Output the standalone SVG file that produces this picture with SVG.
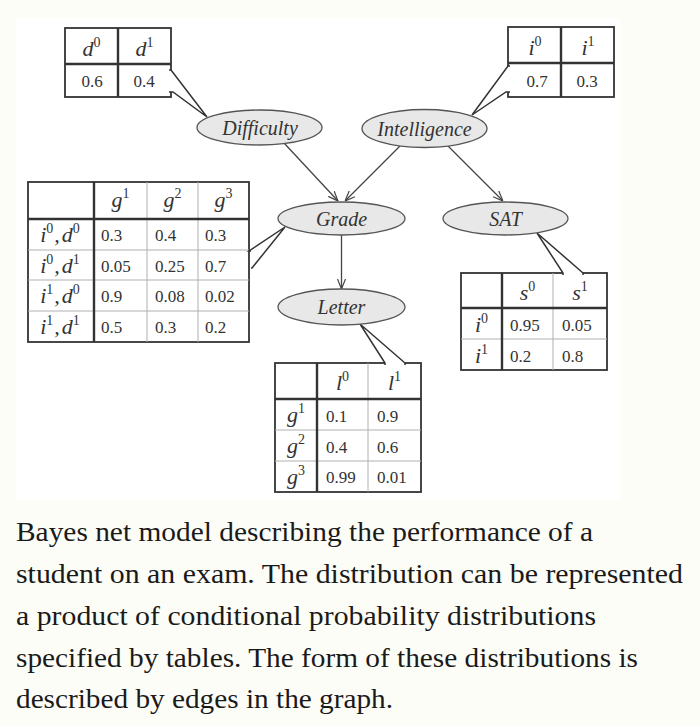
<svg xmlns="http://www.w3.org/2000/svg" width="700" height="726" viewBox="0 0 700 726">
<defs>
<marker id="arr" viewBox="0 0 10 10" refX="10" refY="5" markerWidth="10" markerHeight="10" markerUnits="userSpaceOnUse" orient="auto">
<path d="M0,1 L10,5 L0,9" fill="none" stroke="#444" stroke-width="1.2"/>
</marker>
<style>
.node ellipse{fill:#e8e8e8;stroke:#555;stroke-width:1.3}
.lbl{font-family:"Liberation Serif","Times New Roman",Times,serif;font-style:italic;font-size:20px;fill:#333;text-anchor:middle}
.outer{fill:#fff;stroke:#333;stroke-width:1.8}
.thick{stroke:#333;stroke-width:2.4;fill:none}
.thin{stroke:#b0b0b0;stroke-width:1;fill:none}
.var{font-family:"Liberation Serif","Times New Roman",Times,serif;font-style:italic;font-size:22px;fill:#333;text-anchor:middle}
.sup{font-style:normal;font-size:14px}
.val{font-family:"Liberation Serif","Times New Roman",Times,serif;font-size:17px;fill:#333}
.mid{text-anchor:middle}
.edge{stroke:#444;stroke-width:1.3;fill:none}
.call{fill:#fff;stroke:#333;stroke-width:1.5;stroke-linejoin:miter}
.cap{font-family:"Liberation Serif","Times New Roman",Times,serif;font-size:28px;fill:#1a1a1a}
</style>
</defs>
<rect x="0" y="0" width="700" height="726" fill="#fdfdf8"/>
<rect x="16" y="18" width="604" height="482" fill="#fff"/>

<g id="cpt-difficulty">
<rect class="outer" x="65" y="28" width="106" height="69"/>
<path class="thick" d="M118,28 V97 M65,64 H171"/>
<text class="var" x="91.5" y="56">d<tspan class="sup" dy="-9">0</tspan></text>
<text class="var" x="144.5" y="56">d<tspan class="sup" dy="-9">1</tspan></text>
<text class="val mid" x="92" y="87">0.6</text>
<text class="val mid" x="144" y="87">0.4</text>
</g>

<g id="cpt-intelligence">
<rect class="outer" x="508" y="27" width="106" height="70"/>
<path class="thick" d="M561,27 V97 M508,63 H614"/>
<text class="var" x="535" y="55">i<tspan class="sup" dy="-9">0</tspan></text>
<text class="var" x="588" y="55">i<tspan class="sup" dy="-9">1</tspan></text>
<text class="val mid" x="537" y="87">0.7</text>
<text class="val mid" x="587" y="87">0.3</text>
</g>

<g id="cpt-grade">
<rect class="outer" x="28" y="182" width="221" height="160"/>
<path class="thin" d="M147,182 V342 M198,182 V342 M28,250 H249 M28,280 H249 M28,311 H249"/>
<path class="thick" d="M94,182 V342 M28,219 H249"/>
<text class="var" x="120.5" y="207">g<tspan class="sup" dy="-9">1</tspan></text>
<text class="var" x="172.5" y="207">g<tspan class="sup" dy="-9">2</tspan></text>
<text class="var" x="223.5" y="207">g<tspan class="sup" dy="-9">3</tspan></text>
<text class="var" x="60" y="242">i<tspan class="sup" dy="-9">0</tspan><tspan dy="9" dx="1">,</tspan><tspan dx="2">d</tspan><tspan class="sup" dy="-9">0</tspan></text>
<text class="var" x="60" y="272.5">i<tspan class="sup" dy="-9">0</tspan><tspan dy="9" dx="1">,</tspan><tspan dx="2">d</tspan><tspan class="sup" dy="-9">1</tspan></text>
<text class="var" x="60" y="303">i<tspan class="sup" dy="-9">1</tspan><tspan dy="9" dx="1">,</tspan><tspan dx="2">d</tspan><tspan class="sup" dy="-9">0</tspan></text>
<text class="var" x="60" y="334">i<tspan class="sup" dy="-9">1</tspan><tspan dy="9" dx="1">,</tspan><tspan dx="2">d</tspan><tspan class="sup" dy="-9">1</tspan></text>
<text class="val" x="101" y="241">0.3</text><text class="val" x="155" y="241">0.4</text><text class="val" x="205" y="241">0.3</text>
<text class="val" x="101" y="271.5">0.05</text><text class="val" x="155" y="271.5">0.25</text><text class="val" x="205" y="271.5">0.7</text>
<text class="val" x="101" y="302">0.9</text><text class="val" x="155" y="302">0.08</text><text class="val" x="205" y="302">0.02</text>
<text class="val" x="101" y="333">0.5</text><text class="val" x="155" y="333">0.3</text><text class="val" x="205" y="333">0.2</text>
</g>

<g id="cpt-sat">
<rect class="outer" x="461" y="273" width="146" height="97"/>
<path class="thin" d="M553,273 V370 M461,339 H607"/>
<path class="thick" d="M502,273 V370 M461,308 H607"/>
<text class="var" x="527.5" y="300">s<tspan class="sup" dy="-9">0</tspan></text>
<text class="var" x="580" y="300">s<tspan class="sup" dy="-9">1</tspan></text>
<text class="var" x="481.5" y="332">i<tspan class="sup" dy="-9">0</tspan></text>
<text class="var" x="481.5" y="363">i<tspan class="sup" dy="-9">1</tspan></text>
<text class="val" x="510" y="331">0.95</text><text class="val" x="562" y="331">0.05</text>
<text class="val" x="510" y="362">0.2</text><text class="val" x="562" y="362">0.8</text>
</g>

<g id="cpt-letter">
<rect class="outer" x="275" y="363" width="146" height="129"/>
<path class="thin" d="M368,363 V492 M275,430 H421 M275,461 H421"/>
<path class="thick" d="M317,363 V492 M275,399 H421"/>
<text class="var" x="342.5" y="390">l<tspan class="sup" dy="-9">0</tspan></text>
<text class="var" x="394.5" y="390">l<tspan class="sup" dy="-9">1</tspan></text>
<text class="var" x="296" y="422">g<tspan class="sup" dy="-9">1</tspan></text>
<text class="var" x="296" y="453">g<tspan class="sup" dy="-9">2</tspan></text>
<text class="var" x="296" y="484">g<tspan class="sup" dy="-9">3</tspan></text>
<text class="val" x="326" y="422">0.1</text><text class="val" x="377" y="422">0.9</text>
<text class="val" x="326" y="452.5">0.4</text><text class="val" x="377" y="452.5">0.6</text>
<text class="val" x="326" y="483">0.99</text><text class="val" x="377" y="483">0.01</text>
</g>

<g id="connectors">
<path class="call" d="M169,70 L171,70 L207,117 L173,92 L169,92"/>
<path class="call" d="M510,66 L508,66 L472,115 L506,92 L510,92"/>
<path class="call" d="M251,251 L249,251 L285,227 L252,268 L251,268"/>
<path class="call" d="M563,275 L563,273 L537,233 L583,273 L583,275"/>
<path class="call" d="M385,365 L385,363 L360,324 L405,363 L405,365"/>
<line class="edge" x1="284" y1="143" x2="338" y2="201" marker-end="url(#arr)"/>
<line class="edge" x1="400" y1="146" x2="345" y2="201" marker-end="url(#arr)"/>
<line class="edge" x1="448" y1="146" x2="503" y2="201" marker-end="url(#arr)"/>
<line class="edge" x1="341.5" y1="235" x2="341.5" y2="289" marker-end="url(#arr)"/>
</g>

<g id="node-difficulty" class="node">
<ellipse cx="259.5" cy="127.5" rx="62.5" ry="17.5"/>
<text class="lbl" x="260" y="134.5">Difficulty</text>
</g>
<g id="node-intelligence" class="node">
<ellipse cx="424.5" cy="128.5" rx="62.5" ry="19"/>
<text class="lbl" x="424.5" y="135.5">Intelligence</text>
</g>
<g id="node-grade" class="node">
<ellipse cx="341.5" cy="218.5" rx="63.5" ry="16.5"/>
<text class="lbl" x="341.5" y="225.5">Grade</text>
</g>
<g id="node-sat" class="node">
<ellipse cx="505.5" cy="218.5" rx="62.5" ry="16.5"/>
<text class="lbl" x="505.5" y="225.5">SAT</text>
</g>
<g id="node-letter" class="node">
<ellipse cx="341.5" cy="307" rx="63.5" ry="18"/>
<text class="lbl" x="341.5" y="314">Letter</text>
</g>

<g id="caption">
<text class="cap" x="16" y="541" textLength="577" lengthAdjust="spacingAndGlyphs">Bayes net model describing the performance of a</text>
<text class="cap" x="16" y="583" textLength="667" lengthAdjust="spacingAndGlyphs">student on an exam. The distribution can be represented</text>
<text class="cap" x="16" y="625" textLength="580" lengthAdjust="spacingAndGlyphs">a product of conditional probability distributions</text>
<text class="cap" x="16" y="667" textLength="622" lengthAdjust="spacingAndGlyphs">specified by tables. The form of these distributions is</text>
<text class="cap" x="16" y="708" textLength="377" lengthAdjust="spacingAndGlyphs">described by edges in the graph.</text>
</g>
</svg>
